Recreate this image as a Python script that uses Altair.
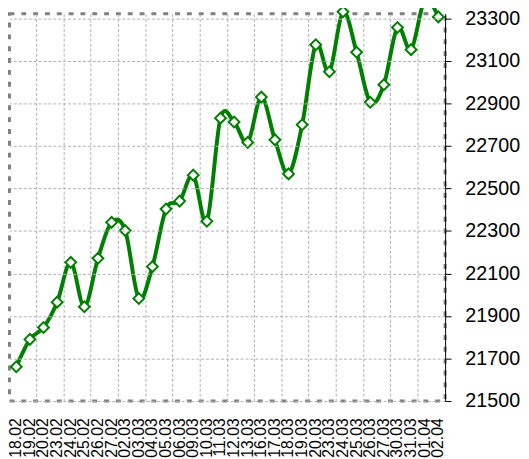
import altair as alt
import pandas as pd

dates = ["18.02", "19.02", "20.02", "23.02", "24.02", "25.02", "26.02", "27.02",
         "02.03", "03.03", "04.03", "05.03", "06.03", "09.03", "10.03", "11.03",
         "12.03", "13.03", "16.03", "17.03", "18.03", "19.03", "20.03", "23.03",
         "24.03", "25.03", "26.03", "27.03", "30.03", "31.03", "01.04", "02.04"]
values = [21661, 21790, 21846, 21965, 22152, 21943, 22171, 22340,
          22302, 21982, 22132, 22403, 22440, 22562, 22345, 22830,
          22812, 22716, 22929, 22728, 22568, 22799, 23175, 23048,
          23330, 23140, 22905, 22987, 23256, 23152, 23385, 23306]
y_ticks = [21500, 21700, 21900, 22100, 22300, 22500, 22700, 22900, 23100, 23300]
y_domain = [21500, 23321]
grid_dates = dates[2::2]

df = pd.DataFrame({"date": dates, "value": values})

GREEN = "#008000"
GRID = "#b0b0b0"

xscale = alt.Scale(type="band", domain=dates, paddingInner=0, paddingOuter=0)
yscale = alt.Scale(domain=y_domain, nice=False, zero=False)
yaxis = alt.Axis(orient="right", values=y_ticks, format="d", grid=True,
                 gridColor=GRID, gridDash=[3, 2], gridWidth=1,
                 domain=True, domainColor="black", domainWidth=1,
                 ticks=True, tickColor="black", tickSize=6, tickWidth=1,
                 labelPadding=14, labelFont="Liberation Sans", labelFontSize=20,
                 labelColor="black", title=None, zindex=1)

grid_axis = alt.Axis(values=grid_dates, bandPosition=0, grid=True, gridColor=GRID,
                     gridDash=[3, 2], gridWidth=1, labels=False, ticks=False,
                     domain=False, title=None, orient="bottom")
label_axis = alt.Axis(labelAngle=-90, grid=False, ticks=False, tickSize=0, domain=False,
                      labelPadding=17, labelFont="Liberation Sans", labelFontSize=16,
                      labelColor="black", labelOverlap=False, title=None, orient="bottom")

base = alt.Chart(df)

line = base.mark_line(color=GREEN, strokeWidth=4, interpolate="cardinal", clip=False).encode(
    x=alt.X("date:N", scale=xscale, sort=None, axis=grid_axis),
    y=alt.Y("value:Q", scale=yscale, axis=yaxis),
)
points = base.mark_point(shape="diamond", size=120, filled=True, fill="white",
                         stroke=GREEN, strokeWidth=2, opacity=1, clip=False).encode(
    x=alt.X("date:N", scale=xscale, sort=None, axis=label_axis),
    y=alt.Y("value:Q", scale=yscale, axis=yaxis),
)

chart = alt.layer(line, points).resolve_axis(x="independent").properties(
    width=442, height=393,
    autosize=alt.AutoSizeParams(type="none"),
    padding={"left": 1.5, "top": 2.5, "right": 77, "bottom": 55},
).configure_view(
    stroke="#808080", strokeWidth=3, strokeDash=[5, 7]
)

chart.save("out.html", embed_options={"renderer": "svg", "actions": False})
